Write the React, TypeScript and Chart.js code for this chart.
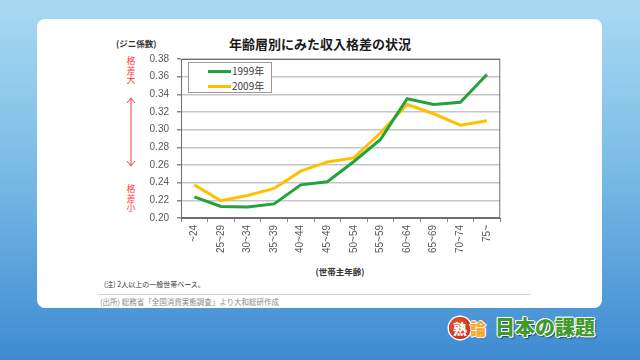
import React, { useEffect, useRef } from "react";
import Chart from "chart.js/auto";

const categories = ["~24", "25~29", "30~34", "35~39", "40~44", "45~49", "50~54", "55~59", "60~64", "65~69", "70~74", "75~"];
const series1999 = [0.224, 0.213, 0.2125, 0.216, 0.2375, 0.241, 0.264, 0.289, 0.335, 0.3285, 0.331, 0.3625];
const series2009 = [0.2375, 0.2195, 0.2255, 0.2335, 0.253, 0.2635, 0.268, 0.2965, 0.3285, 0.318, 0.305, 0.31];
const seriesNames = ["1999年", "2009年"];
const seriesColors = ["#25a23e", "#ffc000"];
const yMin = 0.2;
const yMax = 0.38;
const yStep = 0.02;

const JP = '"Noto Sans CJK JP", "Noto Sans", sans-serif';

const frameBorder = {
  id: "frameBorder",
  afterDraw(chart: any) {
    const { ctx, chartArea } = chart;
    ctx.save();
    ctx.strokeStyle = "#6e6e6e";
    ctx.lineWidth = 1;
    ctx.strokeRect(chartArea.left + 0.5, chartArea.top + 0.5, chartArea.right - chartArea.left - 1, chartArea.bottom - chartArea.top - 1);
    ctx.restore();
  },
};

export default function App() {
  const ref = useRef<HTMLCanvasElement | null>(null);
  useEffect(() => {
    const prevMargin = document.body.style.margin;
    document.body.style.margin = "0";
    const chart = new Chart(ref.current as HTMLCanvasElement, {
      type: "line",
      data: {
        labels: categories,
        datasets: [
          { label: seriesNames[0], data: series1999, borderColor: seriesColors[0], backgroundColor: seriesColors[0], borderWidth: 3, pointRadius: 0, tension: 0 },
          { label: seriesNames[1], data: series2009, borderColor: seriesColors[1], backgroundColor: seriesColors[1], borderWidth: 3, pointRadius: 0, tension: 0 },
        ],
      },
      options: {
        responsive: false,
        animation: false,
        layout: { padding: { top: 10, right: 1, left: 0, bottom: 0 } },
        plugins: { legend: { display: false }, title: { display: false }, tooltip: { enabled: false } },
        scales: {
          x: {
            offset: true,
            grid: { offset: true, drawOnChartArea: false, drawTicks: true, tickLength: 4, tickColor: "#8a8a8a" },
            border: { color: "#6e6e6e", width: 1 },
            ticks: { minRotation: 90, maxRotation: 90, autoSkip: false, padding: 3, color: "#595959", font: { size: 10, family: '"Liberation Sans", sans-serif' } },
            afterFit(scale: any) { scale.height = 42; },
          },
          y: {
            min: yMin,
            max: yMax,
            grid: { color: "#c6c6c6", lineWidth: 1.5, tickLength: 4, tickColor: "#8a8a8a" },
            border: { color: "#6e6e6e", width: 1 },
            ticks: { stepSize: yStep, padding: 8, color: "#595959", font: { size: 10, family: '"Liberation Sans", sans-serif' }, callback: (v: any) => Number(v).toFixed(2) },
            afterFit(scale: any) { scale.width = 71; },
          },
        },
      },
      plugins: [frameBorder],
    } as any);
    return () => { chart.destroy(); document.body.style.margin = prevMargin; };
  }, []);

  const redStyle: React.CSSProperties = { position: "absolute", left: 126, width: 10, color: "#ff3b3b", fontSize: 9, lineHeight: "9.5px", fontFamily: JP, textAlign: "center" };

  return (
    <div style={{ position: "fixed", left: 0, top: 0, width: 640, height: 360, overflow: "hidden", background: "linear-gradient(180deg, #a9daf2 0%, #7cbde6 45%, #3f8bd2 100%)" }}>
      <div style={{ position: "absolute", left: 37, top: 19, width: 565, height: 289, background: "#ffffff", borderRadius: 8 }} />
      <div style={{ position: "absolute", left: 0, top: 34, width: 640, textAlign: "center", fontFamily: JP, fontWeight: 700, fontSize: 13, color: "#1a1a1a" }}>年齢層別にみた収入格差の状況</div>
      <div style={{ position: "absolute", left: 116, top: 37, fontFamily: JP, fontWeight: 700, fontSize: 8.5, color: "#333" }}>(ジニ係数)</div>
      <div style={{ ...redStyle, top: 56 }}>格<br />差<br />大</div>
      <svg style={{ position: "absolute", left: 124, top: 96 }} width={14} height={72}>
        <line x1={7} y1={2} x2={7} y2={70} stroke="#ff3b3b" strokeWidth={1} />
        <polyline points="3,7 7,2 11,7" fill="none" stroke="#ff3b3b" strokeWidth={1} />
        <polyline points="3,65 7,70 11,65" fill="none" stroke="#ff3b3b" strokeWidth={1} />
      </svg>
      <div style={{ ...redStyle, top: 184 }}>格<br />差<br />小</div>
      <canvas ref={ref} width={392} height={215} style={{ position: "absolute", left: 110, top: 45, width: 392, height: 215 }} />
      <div style={{ position: "absolute", left: 188, top: 62, width: 84, height: 31, border: "1px solid #9a9a9a", background: "#fff", boxSizing: "border-box" }}>
        {seriesNames.map((n, i) => (
          <div key={n} style={{ position: "absolute", left: 19, top: 2 + i * 15, height: 12, display: "flex", alignItems: "center" }}>
            <div style={{ width: 23, height: 3, background: seriesColors[i] }} />
            <span style={{ fontFamily: JP, fontSize: 10, color: "#404040", marginLeft: 1, lineHeight: "12px" }}>{n}</span>
          </div>
        ))}
      </div>
      <div style={{ position: "absolute", left: 240, top: 265, width: 200, textAlign: "center", fontFamily: JP, fontWeight: 700, fontSize: 8.5, color: "#333" }}>(世帯主年齢)</div>
      <div style={{ position: "absolute", left: 104, top: 279, fontFamily: JP, fontSize: 7, color: "#333" }}>(注) 2人以上の一般世帯ベース。</div>
      <div style={{ position: "absolute", left: 98, top: 294, width: 432, height: 1, background: "#d4d4d4" }} />
      <div style={{ position: "absolute", left: 100, top: 296, fontFamily: JP, fontSize: 7.5, color: "#8a8a8a" }}>(出所) 総務省「全国消費実態調査」より大和総研作成</div>
      <div style={{ position: "absolute", left: 449, top: 317, width: 22, height: 22, borderRadius: 11, background: "radial-gradient(circle at 40% 40%, #f25a2a, #c0201a)", color: "#fff", fontFamily: JP, fontWeight: 900, fontSize: 14, lineHeight: "22px", textAlign: "center", boxShadow: "0 0 0 1.5px #fff" }}>熟</div>
      <div style={{ position: "absolute", left: 470, top: 316, fontFamily: JP, fontWeight: 900, fontSize: 16, color: "#f5a623", textShadow: "1px 0 #fff, -1px 0 #fff, 0 1px #fff, 0 -1px #fff" }}>論</div>
      <div style={{ position: "absolute", left: 495, top: 312, fontFamily: JP, fontWeight: 900, fontSize: 20, color: "#3f9a2c", letterSpacing: 0, textShadow: "1px 0 #fff, -1px 0 #fff, 0 1px #fff, 0 -1px #fff, 1px 1px #fff, -1px -1px #fff, 2px 2px 1px #1f4f70" }}>日本の課題</div>
    </div>
  );
}
